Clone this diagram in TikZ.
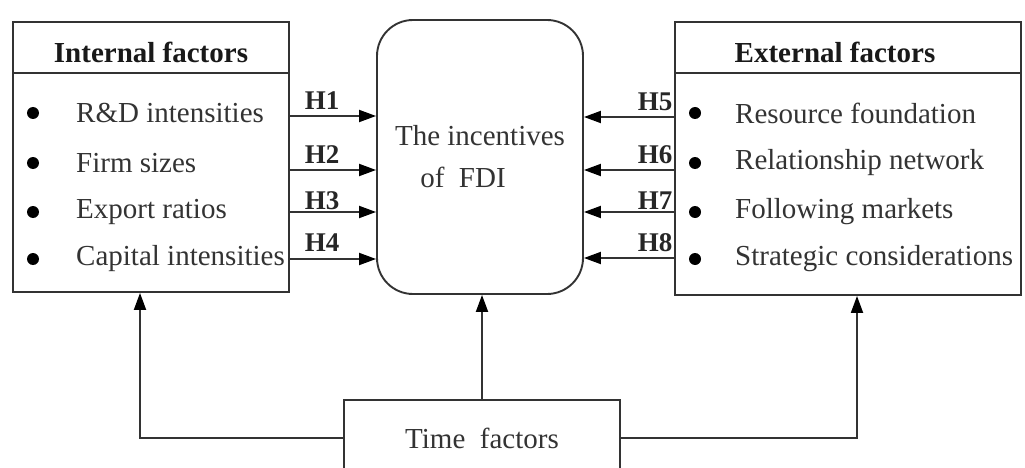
\documentclass[tikz,border=0pt]{standalone}
\usepackage{fontspec}
\setmainfont{Liberation Serif}
\usetikzlibrary{arrows.meta}

\begin{document}
\begin{tikzpicture}[x=1pt,y=-1pt,
  frame/.style={draw=black!80, line width=1.9pt},
  item/.style={anchor=west, text=black!80, font=\fontsize{29}{34}\selectfont, inner sep=0pt},
  head/.style={font=\fontsize{29}{34}\selectfont\bfseries, text=black!90, inner sep=0pt},
  hlab/.style={font=\fontsize{27}{32}\selectfont\bfseries, anchor=base, inner sep=0pt, text=black!85},
  link/.style={draw=black!80, line width=1.9pt, -{Triangle[length=17pt,width=12pt,fill=black,color=black]}},
  dot/.style={circle, fill=black, inner sep=0pt, minimum size=12pt}
]
\useasboundingbox (0,0) rectangle (1025,468);

% main blocks
\node[frame, minimum width=276pt, minimum height=270pt, inner sep=0pt] (intl) at (151,157) {};
\node[frame, minimum width=346pt, minimum height=273pt, inner sep=0pt] (extl) at (848,158.5) {};
\node[frame, rounded corners=36pt, minimum width=206pt, minimum height=274pt, inner sep=0pt,
      align=center, text=black!80, font=\fontsize{29}{42}\selectfont] (fdi) at (480,157)
      {The incentives\\of~~FDI\hspace*{34pt}};
\node[frame, minimum width=276pt, minimum height=76pt, text=black!80,
      font=\fontsize{29}{34}\selectfont] (time) at (482,438) {Time~~factors};

% headers
\draw[frame] (intl.west |- 0,73) -- (intl.east |- 0,73);
\draw[frame] (extl.west |- 0,73) -- (extl.east |- 0,73);
\node[head] (intlh) at (151,52) {Internal factors};
\node[head] (extlh) at (835,52) {External factors};

% internal factor items
\node[dot] (b1) at (33,113) {};
\node[dot] (b2) at (33,163) {};
\node[dot] (b3) at (33,212) {};
\node[dot] (b4) at (33,259) {};
\node[item] (i1) at (76,113) {R\&D intensities};
\node[item] (i2) at (76,163) {Firm sizes};
\node[item] (i3) at (76,212) {Export ratios};
\node[item] (i4) at (76,259) {Capital intensities};

% external factor items
\node[dot] (c1) at (695,113) {};
\node[dot] (c2) at (695,163) {};
\node[dot] (c3) at (695,212) {};
\node[dot] (c4) at (695,259) {};
\node[item] (e1) at (735,113) {Resource foundation};
\node[item] (e2) at (735,163) {Relationship network};
\node[item] (e3) at (735,212) {Following markets};
\node[item] (e4) at (735,259) {Strategic considerations};

% hypotheses H1--H4
\draw[link] (intl.east |- 0,116) -- (fdi.west |- 0,116);
\draw[link] (intl.east |- 0,170) -- (fdi.west |- 0,170);
\draw[link] (intl.east |- 0,212) -- (fdi.west |- 0,212);
\draw[link] (intl.east |- 0,259) -- (fdi.west |- 0,259);
\node[hlab] (h1) at (322,110) {H1};
\node[hlab] (h2) at (322,164) {H2};
\node[hlab] (h3) at (322,209) {H3};
\node[hlab] (h4) at (322,251) {H4};

% hypotheses H5--H8
\draw[link] (extl.west |- 0,117) -- (fdi.east |- 0,117);
\draw[link] (extl.west |- 0,170) -- (fdi.east |- 0,170);
\draw[link] (extl.west |- 0,212) -- (fdi.east |- 0,212);
\draw[link] (extl.west |- 0,258) -- (fdi.east |- 0,258);
\node[hlab] (h5) at (655,111) {H5};
\node[hlab] (h6) at (655,164) {H6};
\node[hlab] (h7) at (655,209) {H7};
\node[hlab] (h8) at (655,251) {H8};

% time factors feed all three blocks
\coordinate (tl) at (140,0 |- intl.south);
\coordinate (tr) at (857,0 |- extl.south);
\draw[link] (time.west) -| (tl);
\draw[link] (time.east) -| (tr);
\draw[link] (time.north) -- (time.north |- fdi.south);
\end{tikzpicture}
\end{document}
